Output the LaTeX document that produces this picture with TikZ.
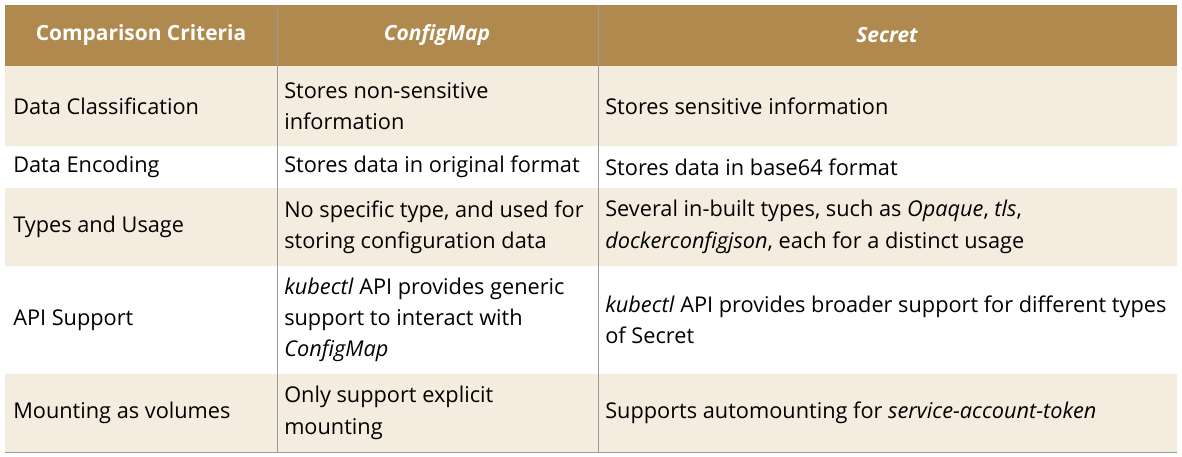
\documentclass[tikz,border=0pt]{standalone}
\usepackage{fontspec}
\setmainfont{Open Sans}
\definecolor{headbrown}{HTML}{B0894F}
\definecolor{rowbeige}{HTML}{F4ECDE}
\definecolor{gridgray}{HTML}{9A9A9A}
\tikzset{
  cell/.style={anchor=west, inner sep=0pt, align=left, font=\fontsize{16.3}{23.5}\selectfont},
  headcell/.style={anchor=center, inner sep=0pt, text=white, font=\fontsize{15.7}{23.5}\selectfont\bfseries},
}
\begin{document}
\begin{tikzpicture}[x=0.75pt, y=-0.75pt]
\useasboundingbox (0,0) rectangle (1182,457);
%backgrounds
\fill[headbrown] (5,5) rectangle (1177,66);
\fill[rowbeige] (5,66) rectangle (1177,146);
\fill[rowbeige] (5,188) rectangle (1177,266);
\fill[rowbeige] (5,374) rectangle (1177,452);
\draw[gridgray, line width=0.6pt] (277,5) -- (277,452);
\draw[gridgray, line width=0.6pt] (598,5) -- (598,452);
\draw[gridgray, line width=0.6pt] (5,452) -- (1177,452);
%Text
\node[headcell] (h1) at (141,35) {Comparison Criteria};
\node[headcell] (h2) at (437,35) {\itshape ConfigMap};
\node[headcell] (h3) at (887,35) {\itshape Secret};
\node[cell] (a1) at (13,106) {Data Classification};
\node[cell] (b1) at (284,106) {Stores non-sensitive\\information};
\node[cell] (c1) at (605,106) {Stores sensitive information};
\node[cell] (a2) at (13,167) {Data Encoding};
\node[cell] (b2) at (284,167) {Stores data in original format};
\node[cell] (c2) at (605,167) {Stores data in base64 format};
\node[cell] (a3) at (13,227) {Types and Usage};
\node[cell] (b3) at (284,227) {No specific type, and used for\\storing configuration data};
\node[cell] (c3) at (605,227) {Several in-built types, such as \textit{Opaque}, \textit{tls},\\\textit{dockerconfigjson}, each for a distinct usage};
\node[cell] (a4) at (13,320) {API Support};
\node[cell] (b4) at (284,320) {\textit{kubectl} API provides generic\\support to interact with\\\textit{ConfigMap}};
\node[cell] (c4) at (605,320) {\textit{kubectl} API provides broader support for different types\\of Secret};
\node[cell] (a5) at (13,413) {Mounting as volumes};
\node[cell] (b5) at (284,413) {Only support explicit\\mounting};
\node[cell] (c5) at (605,413) {Supports automounting for \textit{service-account-token}};
\end{tikzpicture}
\end{document}
